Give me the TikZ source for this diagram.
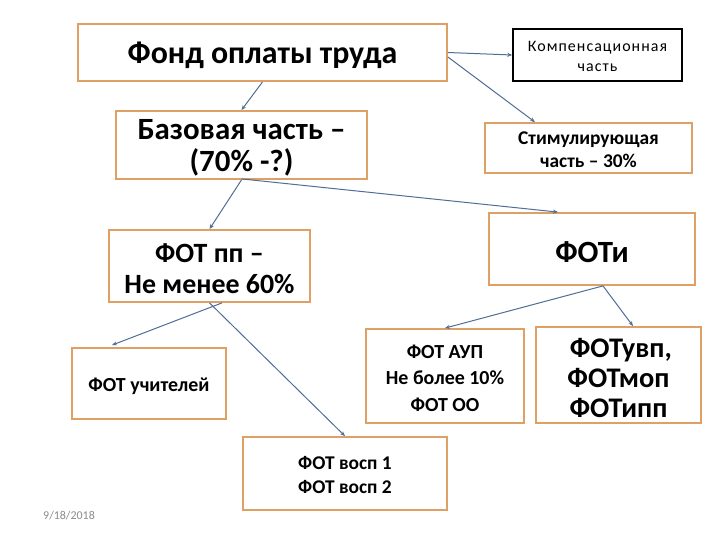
\documentclass[tikz,border=0pt]{standalone}
\usepackage{fontspec}
\setmainfont{Carlito}
\usetikzlibrary{arrows.meta}
\definecolor{boxor}{RGB}{222,160,100}
\definecolor{arr}{RGB}{80,110,150}
\definecolor{dategray}{RGB}{140,140,140}
\tikzset{
  obox/.style={draw=boxor, line width=1.8bp, fill=white, inner sep=0pt},
  kbox/.style={draw=black, line width=1.5bp, fill=white, inner sep=0pt},
  txt/.style={align=center, inner sep=0pt, font=\bfseries},
  conn/.style={draw=arr, line width=1bp, -{Stealth[length=5bp,width=4bp]}}
}
\begin{document}
\begin{tikzpicture}[x=1bp,y=-1bp]
\useasboundingbox (0,0) rectangle (720,540);
\fill[white] (0,0) rectangle (720,540);
% boxes
\node[obox, minimum width=369bp, minimum height=57bp] (fond) at (262.5,52.5) {};
\node[kbox, minimum width=169bp, minimum height=52bp] (komp) at (597.5,55) {};
\node[obox, minimum width=207bp, minimum height=50bp] (stim) at (588.5,148) {};
\node[obox, minimum width=251bp, minimum height=68bp] (baz) at (241.5,145) {};
\node[obox, minimum width=201bp, minimum height=72bp] (fotpp) at (209.5,266) {};
\node[obox, minimum width=206bp, minimum height=72bp] (foti) at (592,249) {};
\node[obox, minimum width=154bp, minimum height=71bp] (uch) at (149,383.5) {};
\node[obox, minimum width=158bp, minimum height=94bp] (aup) at (445,376) {};
\node[obox, minimum width=165bp, minimum height=96bp] (uvp) at (618.5,375) {};
\node[obox, minimum width=204bp, minimum height=73bp] (vosp) at (345,473.5) {};
% texts
\node[txt, font=\bfseries\fontsize{32}{38}\selectfont] (fondt) at ([yshift=-3bp]fond.center) {Фонд оплаты труда};
\node[txt, font=\fontsize{16}{20}\selectfont\addfontfeatures{LetterSpace=6.5}] (kompt) at ([yshift=-1bp]komp.center) {Компенсационная\\часть};
\node[txt, font=\bfseries\fontsize{19.5}{23}\selectfont] (stimt) at ([yshift=-2bp]stim.center) {Стимулирующая\\часть – 30\%};
\node[txt, font=\bfseries\fontsize{31}{32}\selectfont] (bazt) at ([yshift=-3bp]baz.center) {Базовая часть –\\(70\% -?)};
\node[txt, font=\bfseries\fontsize{28}{31}\selectfont] (fotppt) at ([yshift=-2.5bp]fotpp.center) {ФОТ пп –\\Не менее 60\%};
\node[txt, font=\bfseries\fontsize{31}{36}\selectfont] (fotit) at ([yshift=-3.5bp]foti.center) {ФОТи};
\node[txt, font=\bfseries\fontsize{20}{24}\selectfont] (ucht) at ([yshift=-3bp]uch.center) {ФОТ учителей};
\node[txt, font=\bfseries\fontsize{20}{26.5}\selectfont] (aupt) at ([yshift=-2bp]aup.center) {ФОТ АУП\\Не более 10\%\\ФОТ ОО};
\node[txt, font=\bfseries\fontsize{28.5}{30}\selectfont] (uvpt) at ([yshift=-3bp]uvp.center) {\,ФОТувп,\\ФОТмоп\\ФОТипп};
\node[txt, font=\bfseries\fontsize{19.5}{23.5}\selectfont] (vospt) at ([yshift=-1.5bp]vosp.center) {ФОТ восп 1\\ФОТ восп 2};
\node[anchor=west, inner sep=0pt, text=dategray, font=\fontsize{12}{14}\selectfont] (date) at (43,516) {9/18/2018};
% connectors
\draw[conn] (fond.east) -- (komp.west);
\draw[conn] ([yshift=-4.5bp]fond.east) -- ([xshift=-53.5bp]stim.north);
\draw[conn] (fond.south) -- (baz.north);
\draw[conn] ([yshift=1bp]baz.south) -- ([xshift=-34bp]foti.north);
\draw[conn] (baz.south) -- (fotpp.north);
\draw[conn] ([xshift=12.5bp]fotpp.south) -- ([xshift=-37bp,yshift=2bp]uch.north);
\draw[conn] (fotpp.south) -- (vosp.north);
\draw[conn] ([xshift=11bp]foti.south) -- (aup.north);
\draw[conn] ([xshift=11bp]foti.south) -- ([xshift=14.5bp]uvp.north);
\end{tikzpicture}
\end{document}
